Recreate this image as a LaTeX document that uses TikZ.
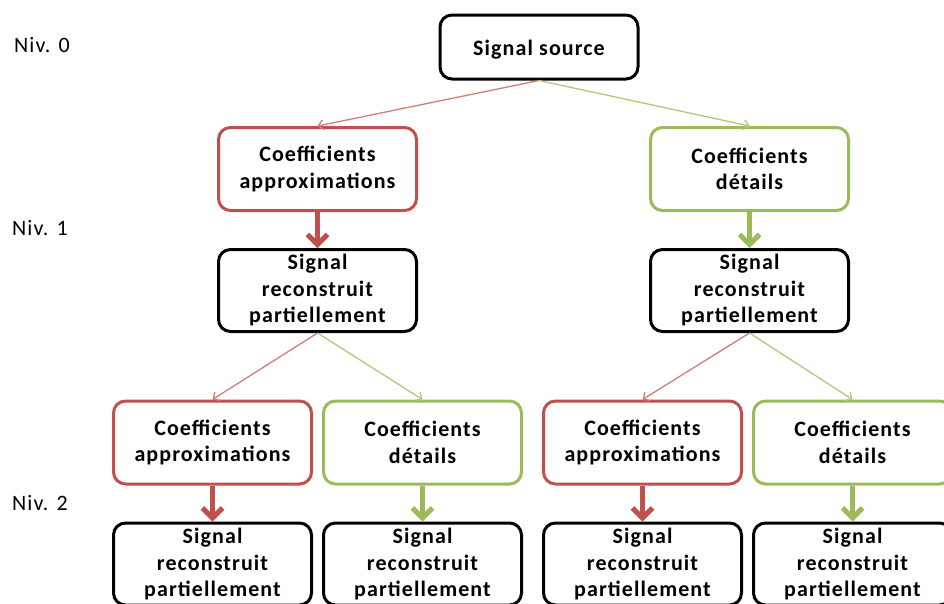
\documentclass[tikz,border=0pt]{standalone}
\usepackage{fontspec}
\setmainfont{Carlito}
\newfontfamily\boxfont{Carlito}[LetterSpace=5]
\usetikzlibrary{arrows.meta,positioning}
\definecolor{approxred}{HTML}{C0504D}
\definecolor{detgreen}{HTML}{9BBB59}

\begin{document}
\begin{tikzpicture}[
                    x=1pt, y=-1pt,
                    node distance = 36pt and 9pt,
                    box/.style = {rectangle, rounded corners=12pt, line width=3pt, fill=white,
                                  minimum width=198pt, align=center, inner sep=2pt,
                                  font=\boxfont\fontsize{22}{26.5}\selectfont\bfseries,
                                  execute at begin node={\rule{0pt}{21pt}}},
                    src/.style = {box, draw=black, minimum height=64pt},
                    recon/.style = {box, draw=black, minimum height=82pt},
                    coefa/.style = {box, draw=approxred, minimum height=83pt},
                    coefd/.style = {box, draw=detgreen, minimum height=83pt},
                    niv/.style = {anchor=west, inner sep=0pt, font=\boxfont\fontsize{22}{26}\selectfont},
                    branch/.style = {line width=1.3pt, -{Straight Barb[length=5pt,width=10pt]}},
                    down/.style = {line width=5pt, -{Straight Barb[length=10pt,width=20pt]}}
                    ]

\useasboundingbox (0,0) rectangle (944,603);

% levels
\node[niv] (niv0) at (14,45)  {Niv. 0};
\node[niv] (niv1) at (12,228) {Niv. 1};
\node[niv] (niv2) at (12,503) {Niv. 2};

\node[src] (src) at (539,47) {Signal source};

% level 1
\node[coefa] (a1) at (317.5,169) {Coefficients\\approximations};
\node[coefd] (d1) at (749.5,169) {Coefficients\\détails};
\node[recon, below=of a1] (ra1) {Signal\\reconstruit\\partiellement};
\node[recon, below=of d1] (rd1) {Signal\\reconstruit\\partiellement};

% level 2
\node[coefa] (a2) at (212.5,442.5) {Coefficients\\approximations};
\node[coefd] (d2) at (422.5,442.5) {Coefficients\\détails};
\node[coefa] (a3) at (642.5,442.5) {Coefficients\\approximations};
\node[coefd] (d3) at (852.5,442.5) {Coefficients\\détails};
\node[recon, below=of a2] (ra2) {Signal\\reconstruit\\partiellement};
\node[recon, below=of d2] (rd2) {Signal\\reconstruit\\partiellement};
\node[recon, below=of a3] (ra3) {Signal\\reconstruit\\partiellement};
\node[recon, below=of d3] (rd3) {Signal\\reconstruit\\partiellement};

\path[branch]
    (src.south) edge[draw=approxred!75] (a1.north)
    (src.south) edge[draw=detgreen!80]  (d1.north)
    (ra1.south) edge[draw=approxred!75] (a2.north)
    (ra1.south) edge[draw=detgreen!80]  (d2.north)
    (rd1.south) edge[draw=approxred!75] (a3.north)
    (rd1.south) edge[draw=detgreen!80]  (d3.north);

\path[down]
    (a1) edge[draw=approxred] (ra1)
    (d1) edge[draw=detgreen]  (rd1)
    (a2) edge[draw=approxred] (ra2)
    (d2) edge[draw=detgreen]  (rd2)
    (a3) edge[draw=approxred] (ra3)
    (d3) edge[draw=detgreen]  (rd3);
\end{tikzpicture}
\end{document}
